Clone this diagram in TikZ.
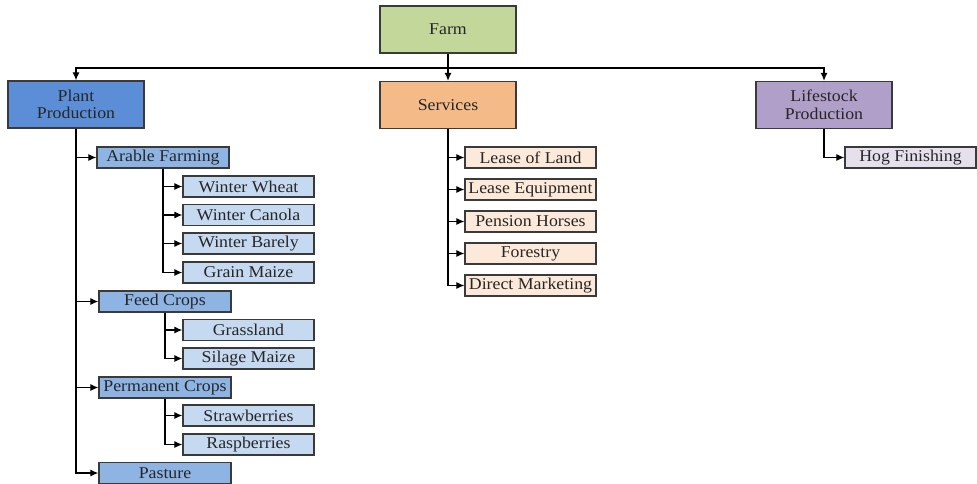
\documentclass[tikz,border=0pt]{standalone}
\usepackage{fontspec}
\setmainfont{Liberation Serif}[FakeStretch=1.08]
\usetikzlibrary{arrows.meta}
\definecolor{cfarm}{HTML}{C4D79B}
\definecolor{cplant}{HTML}{5B8ED6}
\definecolor{cserv}{HTML}{F4BB88}
\definecolor{clife}{HTML}{B09FC8}
\definecolor{cmid}{HTML}{8EB4E3}
\definecolor{cleaf}{HTML}{C5D9F1}
\definecolor{csleaf}{HTML}{FCE9D9}
\definecolor{chog}{HTML}{E6E0EC}
\definecolor{cborder}{HTML}{3A3A3A}
\tikzset{
  box/.style={draw=cborder, line width=1.3pt, rectangle, inner sep=0pt, align=center,
    font=\fontsize{16.5}{17.5}\selectfont, text=black!85},
  topbox/.style={box, minimum width=136pt, minimum height=47pt},
  midbox/.style={box, minimum width=132pt, minimum height=21pt, fill=cmid},
  leafbox/.style={box, minimum width=131pt, minimum height=21pt, fill=cleaf},
  sbox/.style={box, minimum width=131pt, minimum height=21pt, fill=csleaf},
  arr/.style={draw=black, line width=1.2pt, -{Latex[length=8pt,width=7pt]}},
  ln/.style={draw=black, line width=1.2pt}
}
\begin{document}
\begin{tikzpicture}[x=1pt,y=-1pt]
\useasboundingbox (0,0) rectangle (977,484);
% top level
\node[topbox, fill=cfarm] (farm) at (448,29.5) {Farm};
\node[topbox, fill=cplant] (plant) at (76,104.5) {Plant\\Production};
\node[topbox, fill=cserv] (serv) at (448,105) {Services};
\node[topbox, fill=clife] (life) at (824,105) {Lifestock\\Production};
\coordinate (bus) at (448,68);
\draw[ln] (farm.south) -- (bus);
\draw[arr] (bus) -- (serv.north);
\draw[arr] (bus) -| (plant.north);
\draw[arr] (bus) -| (life.north);
% plant production
\node[midbox] (arable) at (163,157.5) {Arable Farming};
\node[leafbox] (ww) at (248.5,186.5) {Winter Wheat};
\node[leafbox] (wc) at (248.5,215) {Winter Canola};
\node[leafbox] (wb) at (248.5,243.5) {Winter Barely};
\node[leafbox] (gm) at (248.5,272.5) {Grain Maize};
\node[midbox] (feed) at (165,301.5) {Feed Crops};
\node[leafbox] (gl) at (248.5,330) {Grassland};
\node[leafbox] (sm) at (248.5,358.5) {Silage Maize};
\node[midbox] (perm) at (165,387.5) {Permanent Crops};
\node[leafbox] (sb) at (248.5,415.5) {Strawberries};
\node[leafbox] (rb) at (248.5,444.5) {Raspberries};
\node[midbox] (past) at (165,473) {Pasture};
\foreach \n in {arable,feed,perm,past} \draw[arr] (plant.south) |- (\n.west);
\foreach \n in {ww,wc,wb,gm} \draw[arr] (arable.south) |- (\n.west);
\foreach \n in {gl,sm} \draw[arr] (feed.south) |- (\n.west);
\foreach \n in {sb,rb} \draw[arr] (perm.south) |- (\n.west);
% services
\node[sbox] (lol) at (530.5,157.5) {Lease of Land};
\node[sbox] (le) at (530.5,189.5) {Lease Equipment};
\node[sbox] (ph) at (530.5,221.5) {Pension Horses};
\node[sbox] (fo) at (530.5,253.5) {Forestry};
\node[sbox] (dm) at (530.5,285.5) {Direct Marketing};
\foreach \n in {lol,le,ph,fo,dm} \draw[arr] (serv.south) |- (\n.west);
% lifestock
\node[box, minimum width=131pt, minimum height=21pt, fill=chog] (hog) at (910.5,157.5) {Hog Finishing};
\draw[arr] (life.south) |- (hog.west);
\end{tikzpicture}
\end{document}
